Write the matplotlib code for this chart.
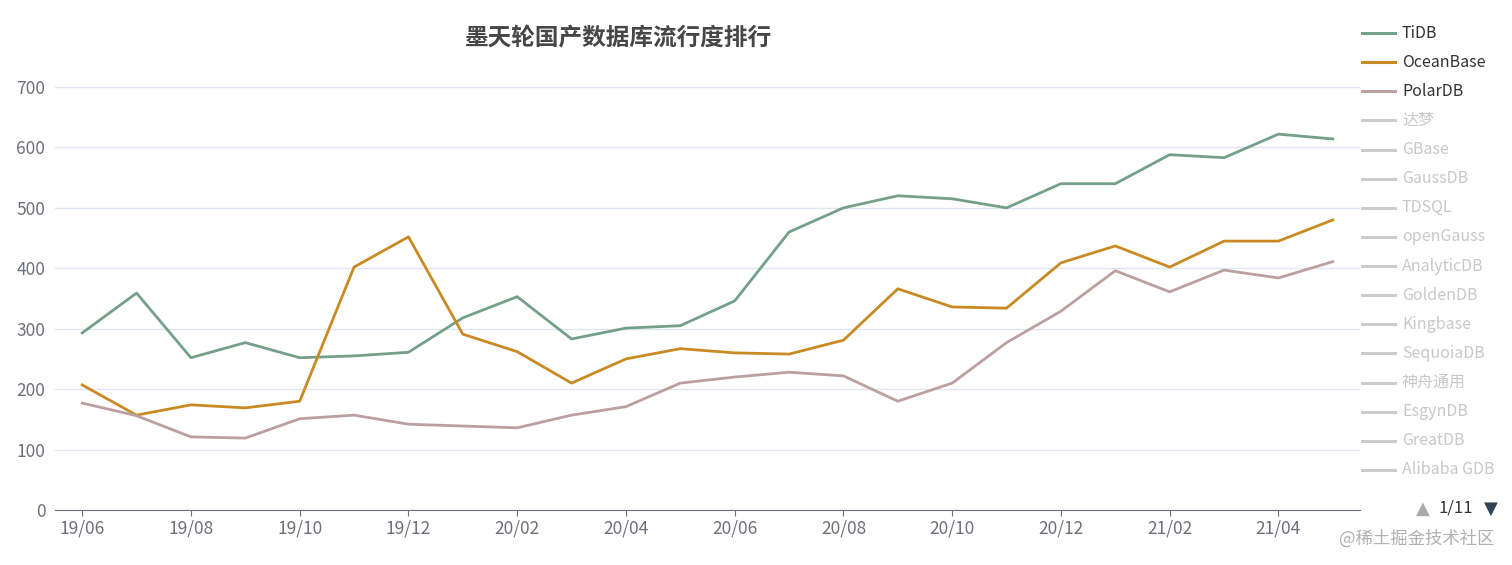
import matplotlib

matplotlib.use("Agg")
import matplotlib.pyplot as plt
from matplotlib.lines import Line2D

plt.rcParams["font.family"] = ["Noto Sans CJK SC", "DejaVu Sans"]

INK = "#464646"
AXIS = "#6e7079"
GRID = "#e0e6f1"
FADED = "#cccccc"

months = ["19/06", "19/07", "19/08", "19/09", "19/10", "19/11", "19/12",
          "20/01", "20/02", "20/03", "20/04", "20/05", "20/06", "20/07",
          "20/08", "20/09", "20/10", "20/11", "20/12", "21/01", "21/02",
          "21/03", "21/04", "21/05"]

tidb = [293, 359, 252, 277, 252, 255, 261, 318, 353, 283, 301, 305,
        346, 460, 500, 520, 515, 500, 540, 540, 588, 583, 622, 614]
oceanbase = [207, 157, 174, 169, 180, 402, 452, 291, 262, 210, 250, 267,
             260, 258, 281, 366, 336, 334, 409, 437, 402, 445, 445, 480]
polardb = [177, 156, 121, 119, 151, 157, 142, 139, 136, 157, 171, 210,
           220, 228, 222, 180, 210, 277, 329, 396, 361, 397, 384, 411]

active = ["TiDB", "OceanBase", "PolarDB"]
active_colors = ["#74a08a", "#c98a24", "#bca0a0"]
hidden = ["达梦", "GBase", "GaussDB", "TDSQL", "openGauss", "AnalyticDB",
          "GoldenDB", "Kingbase", "SequoiaDB", "神舟通用", "EsgynDB",
          "GreatDB", "Alibaba GDB"]

W, H = 1512, 565
fig = plt.figure(figsize=(W / 100, H / 100), dpi=100)
fig.set_facecolor("white")
ax = fig.add_axes([55 / W, 55 / H, (1360 - 55) / W, (478 - 55) / H])

x = list(range(len(months)))
for series, color in zip([tidb, oceanbase, polardb], active_colors):
    ax.plot(x, series, color=color, linewidth=2, solid_joinstyle="round", zorder=3)

ax.set_xlim(-0.5, len(months) - 0.5)
ax.set_ylim(0, 700)
ax.set_yticks(range(0, 701, 100))
ax.set_xticks(x[::2])
ax.set_xticklabels(months[::2])
ax.tick_params(axis="x", colors=AXIS, labelsize=12.5, length=4, pad=3)
ax.tick_params(axis="y", colors=AXIS, labelsize=12.5, length=0, pad=7)
for side in ("top", "right", "left"):
    ax.spines[side].set_visible(False)
ax.spines["bottom"].set_color(AXIS)
ax.grid(axis="y", color=GRID, linewidth=1)
ax.set_axisbelow(True)

fig.text(618 / W, 1 - 38 / H, "墨天轮国产数据库流行度排行", ha="center", va="center",
         fontsize=17, fontweight="bold", color=INK)

# legend drawn by hand, echarts style
names = active + hidden
colors = active_colors + [FADED] * len(hidden)
for i, (name, color) in enumerate(zip(names, colors)):
    yy = 1 - (33 + i * 29.13) / H
    fig.add_artist(Line2D([1362 / W, 1395 / W], [yy, yy], color=color,
                          linewidth=2.2, transform=fig.transFigure))
    fig.text(1402 / W, yy, name, ha="left", va="center", fontsize=11.5,
             color="#333333" if i < 3 else "#c8c8c8")

fig.text(1423 / W, 1 - 509 / H, "▲", ha="center", va="center", fontsize=13,
         color="#aaaaaa", family="DejaVu Sans")
fig.text(1456 / W, 1 - 508 / H, "1/11", ha="center", va="center", fontsize=12,
         color="#333333")
fig.text(1491 / W, 1 - 509 / H, "▼", ha="center", va="center", fontsize=13,
         color="#2f4554", family="DejaVu Sans")
fig.text(1494 / W, 1 - 539 / H, "@稀土掘金技术社区", ha="right", va="center",
         fontsize=12.5, color="#b0b0b0")

fig.savefig("out.png", dpi=100, facecolor="white")
